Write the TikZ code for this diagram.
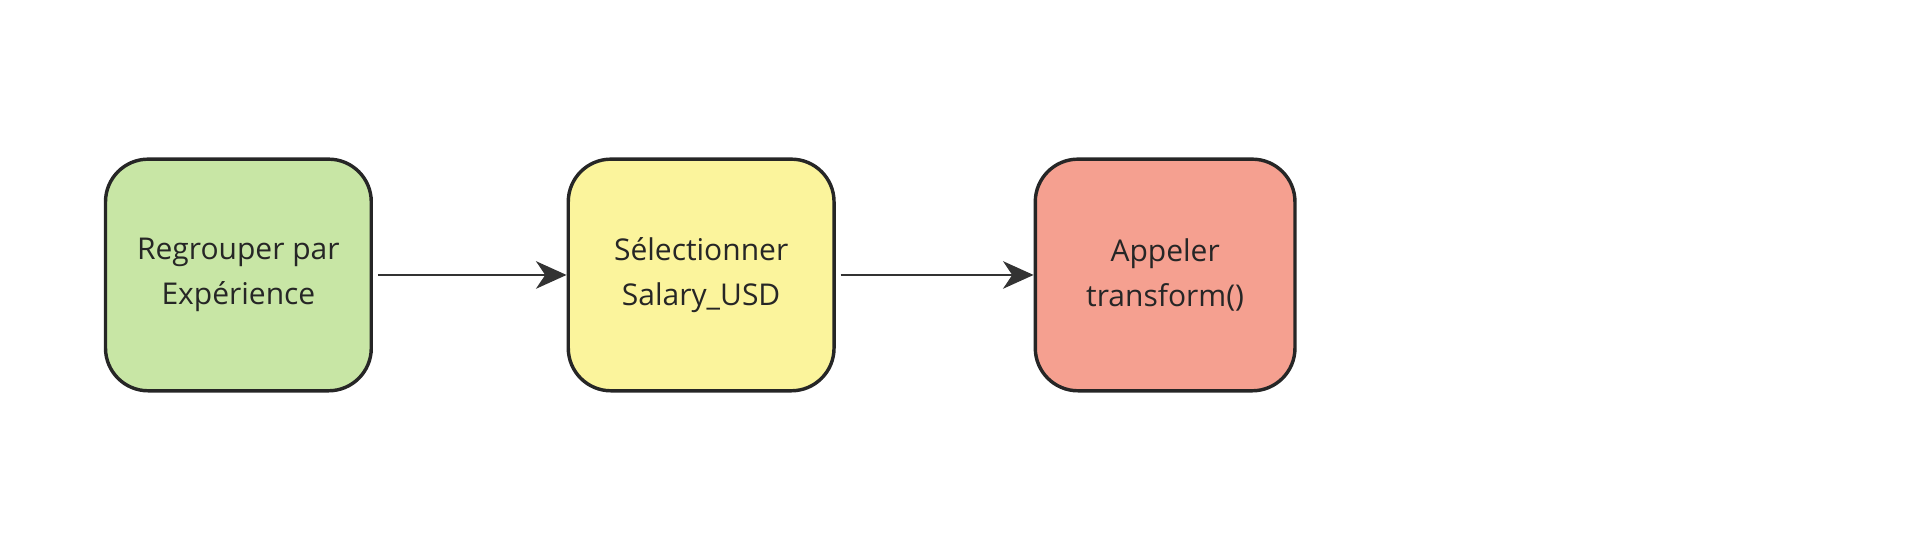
\documentclass[tikz,border=0pt]{standalone}
\usepackage{fontspec}
\setmainfont{Open Sans}
\usetikzlibrary{arrows.meta}
\definecolor{stagegreen}{HTML}{C8E6A5}
\definecolor{stageyellow}{HTML}{FBF49C}
\definecolor{stagered}{HTML}{F5A090}
\tikzset{
  stage/.style={draw=black!85, line width=1.6pt, rounded corners=0.7cm, minimum width=4.36cm, minimum height=3.8cm, align=center, font=\fontsize{14}{21}\selectfont, text=black!85},
  flow/.style={draw=black!80, line width=1.3pt, -{Stealth[length=0.5cm,width=0.45cm,inset=0.15cm]}}
}
\begin{document}
\begin{tikzpicture}[x=0.02cm,y=-0.02cm]
\useasboundingbox (0,0) rectangle (1568,446);
\node [stage, fill=stagegreen] (grp) at (195.5,225.5) {Regrouper par\\Expérience};
\node [stage, fill=stageyellow] (sel) at (575,225.5) {Sélectionner\\Salary\_USD};
\node [stage, fill=stagered, minimum width=4.26cm] (app) at (955.5,225.5) {Appeler\\transform()};
\draw [flow] ([xshift=0.08cm]grp.east) -- (sel.west);
\draw [flow] ([xshift=0.08cm]sel.east) -- (app.west);
\end{tikzpicture}
\end{document}
